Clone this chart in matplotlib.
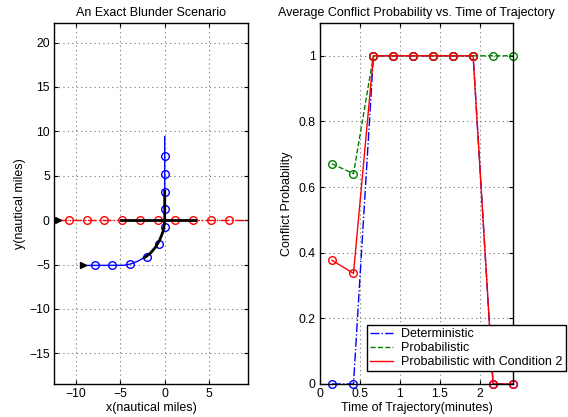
import matplotlib
matplotlib.use("Agg")
import matplotlib.pyplot as plt
from matplotlib.lines import Line2D
from matplotlib.ticker import FormatStrFormatter

plt.rcParams['font.family'] = ['Liberation Sans', 'DejaVu Sans']
plt.rcParams['font.size'] = 9

# left panel: aircraft trajectories (nautical miles)
red_line_x = [-12.1, 9.6]
red_line_y = [0, 0]
red_mark_x = [-10.8, -8.8, -6.8, -4.8, -2.8, -0.8, 1.2, 3.2, 5.2, 7.2]
red_mark_y = [0, 0, 0, 0, 0, 0, 0, 0, 0, 0]

blue_line_x = [-9.2, -4.6, -3.9, -3.0, -2.1, -1.4, -0.8, -0.4, -0.1, 0.0, 0.0]
blue_line_y = [-5.1, -5.08, -4.95, -4.6, -4.1, -3.5, -2.7, -1.9, -0.9, 0.0, 9.4]
blue_mark_x = [-7.9, -5.9, -3.9, -2.0, -0.7, 0.0, 0.0, 0.0, 0.0, 0.0]
blue_mark_y = [-5.1, -5.1, -4.95, -4.1, -2.65, -0.8, 1.2, 3.2, 5.2, 7.2]

conflict_h_x = [-4.9, 3.4]
conflict_h_y = [0, 0]
conflict_c_x = [-2.3, -1.6, -1.0, -0.55, -0.2, -0.05, 0.0, 0.0]
conflict_c_y = [-4.25, -3.7, -3.0, -2.2, -1.3, -0.5, 0.0, 3.25]

start_x = [-12.1, -9.2]
start_y = [0, -5.1]

# right panel: conflict probability vs time
t = [0.15, 0.42, 0.67, 0.92, 1.17, 1.42, 1.67, 1.92, 2.17, 2.42]
p_det = [0, 0, 1, 1, 1, 1, 1, 1, 0, 0]
p_prob = [0.671, 0.641, 1, 1, 1, 1, 1, 1, 1, 1]
p_cond2 = [0.377, 0.337, 1, 1, 1, 1, 1, 1, 0, 0]
series_labels = ['Deterministic', 'Probabilistic', 'Probabilistic with Condition 2']

W, H = 568, 417
fig = plt.figure(figsize=(W / 100, H / 100), dpi=100)

def px_axes(l, t_, r, b):
    return fig.add_axes([l / W, 1 - b / H, (r - l) / W, (b - t_) / H])

def matlab_style(ax):
    ax.tick_params(direction='in', length=3, top=True, right=True, labelsize=8.8, pad=3)
    ax.grid(True, linestyle=(0, (1, 3)), color='0.45', linewidth=0.8)
    for s in ax.spines.values():
        s.set_linewidth(1.0)

ax1 = px_axes(54, 23, 248, 384)
ax1.plot(red_line_x, red_line_y, color='red', linestyle='-.', linewidth=1)
ax1.plot(red_mark_x, red_mark_y, 'o', mfc='none', mec='red', ms=5.5, mew=1)
ax1.plot(blue_line_x, blue_line_y, color='blue', linewidth=1)
ax1.plot(blue_mark_x, blue_mark_y, 'o', mfc='none', mec='blue', ms=5.5, mew=1)
ax1.plot(conflict_h_x, conflict_h_y, color='black', linewidth=2)
ax1.plot(conflict_c_x, conflict_c_y, color='black', linewidth=2)
ax1.plot(start_x, start_y, '>', color='black', ms=5)
ax1.set_xlim(-12.5, 9.4)
ax1.set_ylim(-18.45, 22.2)
ax1.set_xticks([-10, -5, 0, 5])
ax1.set_yticks([-15, -10, -5, 0, 5, 10, 15, 20])
matlab_style(ax1)
ax1.set_title("An Exact Blunder Scenario", fontsize=9, pad=5)
ax1.set_xlabel("x(nautical miles)", fontsize=9, labelpad=1)
ax1.set_ylabel("y(nautical miles)", fontsize=9, labelpad=2)

ax2 = px_axes(320, 23, 513, 384)
styles = [('blue', '-.'), ('green', '--'), ('red', '-')]
for vals, (c, ls) in zip([p_det, p_prob, p_cond2], styles):
    ax2.plot(t, vals, color=c, linestyle=ls, linewidth=1, marker='o',
             mfc='none', ms=5.5, clip_on=False)
ax2.set_xlim(0, 2.42)
ax2.set_ylim(0, 1.1)
ax2.set_xticks([0, 0.5, 1, 1.5, 2])
ax2.set_yticks([0, 0.2, 0.4, 0.6, 0.8, 1])
ax2.xaxis.set_major_formatter(FormatStrFormatter('%g'))
ax2.yaxis.set_major_formatter(FormatStrFormatter('%g'))
matlab_style(ax2)
ax2.set_title("Average Conflict Probability vs. Time of Trajectory", fontsize=9, pad=5)
ax2.set_xlabel("Time of Trajectory(minutes)", fontsize=9, labelpad=1)
ax2.set_ylabel("Conflict Probability", fontsize=9, labelpad=4)

handles = [Line2D([], [], color=c, linestyle=ls, linewidth=1) for c, ls in styles]
leg = ax2.legend(handles, series_labels, loc='upper left',
                 bbox_to_anchor=(367 / W, 1 - 325 / H),
                 bbox_transform=fig.transFigure, fontsize=9, fancybox=False,
                 framealpha=1, edgecolor='black', borderaxespad=0, borderpad=0.25,
                 labelspacing=0.15, handlelength=1.8, handletextpad=0.7)
leg.get_frame().set_linewidth(1.0)
leg.set_zorder(5)

fig.savefig("out.png", dpi=100)
